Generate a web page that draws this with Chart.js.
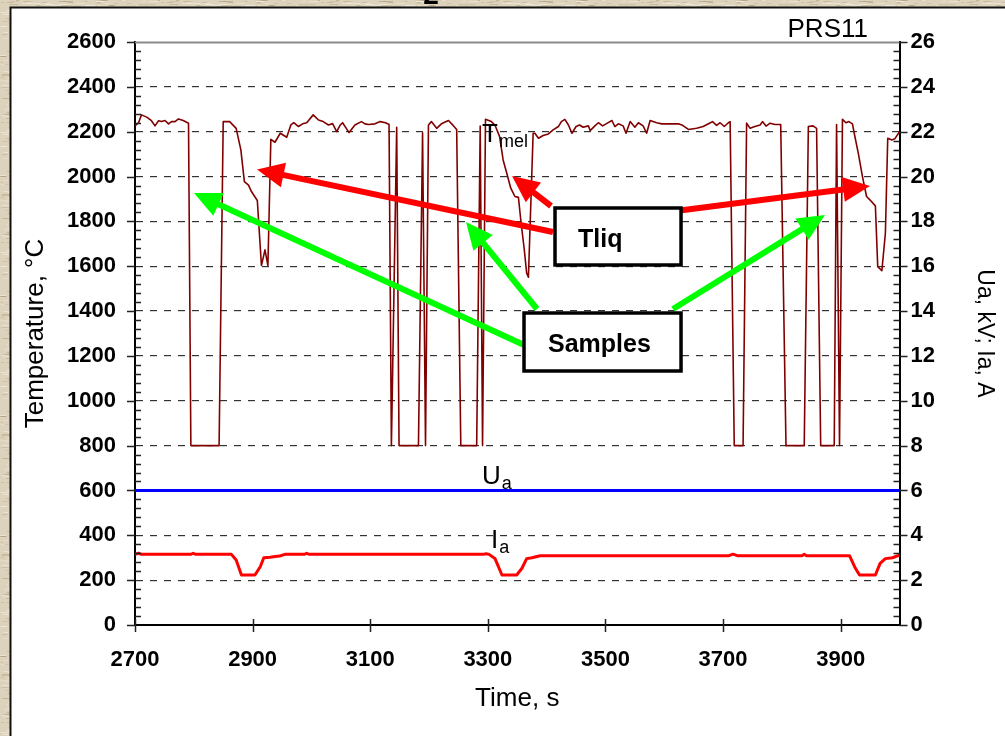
<!DOCTYPE html>
<html><head><meta charset="utf-8">
<script src="https://cdn.jsdelivr.net/npm/chart.js@4/dist/chart.umd.min.js"></script>
<style>html,body{margin:0;padding:0;overflow:hidden;background:#ddd3bc}canvas{display:block}</style>
</head><body>
<canvas id="c" width="1005" height="736"></canvas>
<script>
// ---- axis ticks ----
const xTicks = [2700, 2900, 3100, 3300, 3500, 3700, 3900];
const yTicksLeft = [0, 200, 400, 600, 800, 1000, 1200, 1400, 1600, 1800, 2000, 2200, 2400, 2600];
const yTicksRight = [0, 2, 4, 6, 8, 10, 12, 14, 16, 18, 20, 22, 24, 26];

// ---- T_mel (temperature, °C) ----
const timeT = [2700,2706,2711,2720,2728,2734,2740,2745,2751,2757,2762,2768,2774,2782,2791,
2795,2843,
2850,2861,2872,2880,2886,2893,2898,2908,2915,2921,2926,
2931,2938,2947,2958,2965,2970,2978,2985,2992,3003,3012,3020,3029,3036,3043,3049,3053,3064,3074,3085,3091,3097,3108,3117,3126,3132,
3136,3145,3149,3182,3189,3194,
3199,3204,3213,3221,3233,3241,3247,
3254,3281,3287,3291,3296,
3306,3312,3320,3326,3333,3339,3346,3352,3356,3362,3366,3369,
3377,3380,3386,3394,3403,3411,3420,3425,3431,3437,3443,3450,3456,3462,3471,3474,3482,3488,3495,3501,3511,3516,3522,3530,3535,3542,3550,3556,3564,3570,3576,3587,3596,3604,3624,3630,3641,3655,3666,3677,3682,3689,3695,3702,3709,3712,
3719,3734,
3740,3746,3754,3763,3767,3773,3780,3788,3798,
3807,3838,
3845,3853,3859,
3866,3889,3893,3898,
3903,3909,3914,3920,3923,3930,3937,3944,3950,3959,3963,3970,3976,3980,3987,3992,4000];
const tempT = [2226,2240,2275,2265,2249,2226,2249,2245,2250,2235,2245,2245,2257,2250,2238,
800,800,
2245,2245,2215,2119,1977,1962,1933,1893,1603,1673,1603,
2166,2153,2193,2175,2230,2240,2223,2235,2240,2275,2252,2245,2230,2236,2200,2230,2240,2196,2230,2245,2235,2232,2235,2245,2240,2232,
800,2220,800,800,2195,800,
2230,2245,2215,2235,2250,2228,2210,
800,800,2225,800,2255,
2245,2230,2178,2074,2007,1948,1911,1907,1806,1673,1569,1551,
2193,2193,2171,2183,2190,2208,2223,2245,2255,2230,2193,2223,2230,2220,2226,2205,2226,2240,2226,2235,2250,2223,2235,2226,2193,2245,2220,2240,2226,2193,2250,2240,2235,2235,2235,2230,2210,2215,2223,2238,2245,2228,2240,2223,2240,2245,
800,800,
2238,2215,2223,2230,2245,2225,2238,2232,2232,
800,800,
2223,2226,2215,
800,800,2232,800,
2255,2240,2245,2235,2193,2103,2000,1911,1895,1869,1598,1580,1747,2171,2163,2168,2200];

// ---- I_a (A), right axis ----
const timeI = [2700,2706,2711,2795,2799,2803,2864,2872,2881,2904,2913,2919,2930,2938,2946,2955,2988,2992,2996,3292,3297,3302,3312,3324,3349,3358,3366,3375,3389,3710,3717,3724,3834,3838,3842,3915,3925,3932,3959,3967,3976,3988,4000];
const currI = [3.15,3.2,3.15,3.15,3.2,3.15,3.15,2.9,2.23,2.23,2.6,3.0,3.02,3.05,3.08,3.15,3.15,3.2,3.15,3.15,3.18,3.15,2.97,2.23,2.23,2.53,2.96,3.0,3.09,3.09,3.16,3.09,3.09,3.15,3.09,3.09,2.53,2.23,2.23,2.75,2.96,3.0,3.12];

// ---- U_a (kV), right axis ----
const timeU = [2700, 4000];
const voltU = [6.0, 6.0];

// ---- annotations (data coordinates: time, temperature) ----
const arrowsTliq = [[3410.8,1752.7,2907.5,2031.4],[3407.4,1868.6,3341.1,2002.4],[3620,1846.3,3949.8,1957.8]];
const arrowsSamples = [[3361.5,1248.7,2800.3,1926.6],[3383.6,1409.3,3262.9,1797.3],[3614.8,1409.3,3873.3,1828.5]];
const boxTliq = [3414.2,1859.7,3628.5,1605.5];
const boxSamples = [3361.5,1391.4,3628.5,1132.8];
const textTliq = ['Tliq', 3453.3, 1687];
const textSamples = ['Samples', 3402.3, 1217.5];
const labelTmel = ['T', 'mel', 3290.1, 2154];
const labelUa = ['U', 'a', 3290.1, 628.8];
const labelIa = ['I', 'a', 3305.4, 343.4];
const labelPRS = ['PRS11', 3946.4, 2622.3];
const labelTop = ['2', 3203.3, 2769];

const FONT = "'Liberation Sans', Arial, Helvetica, sans-serif";
Chart.defaults.font.family = FONT;
Chart.defaults.color = '#000';

function pts(xs, ys){ return xs.map((x,i)=>({x:x, y:ys[i]})); }

// background texture pattern (decoration only)
function makeTexture(ctx){
  const c = document.createElement('canvas'); c.width = 160; c.height = 120;
  const g = c.getContext('2d');
  g.fillStyle = '#ddd3bc'; g.fillRect(0,0,160,120);
  let s = 12345;
  const rnd = ()=>{ s = (s*1103515245 + 12345) % 2147483648; return s/2147483648; };
  for(let i=0;i<900;i++){
    const x = rnd()*160, y = Math.floor(rnd()*120), w = 2+rnd()*9;
    const v = rnd();
    g.fillStyle = v<0.5 ? 'rgba(150,130,90,'+(0.15+0.25*rnd())+')' : 'rgba(250,246,236,'+(0.25+0.35*rnd())+')';
    g.fillRect(x,y,w,1);
  }
  return ctx.createPattern(c,'repeat');
}

const bgPlugin = {
  id:'bg',
  beforeDraw(chart){
    const ctx = chart.ctx;
    ctx.save();
    ctx.fillStyle = makeTexture(ctx);
    ctx.fillRect(0,0,chart.width,chart.height);
    ctx.fillStyle = '#fff';
    ctx.fillRect(10,7,chart.width-10,chart.height-7);
    ctx.strokeStyle = '#111'; ctx.lineWidth = 2;
    ctx.beginPath(); ctx.moveTo(10.5,chart.height); ctx.lineTo(10.5,7.5); ctx.lineTo(chart.width,7.5); ctx.stroke();
    ctx.restore();
  },
  beforeDatasetsDraw(chart){
    const ctx = chart.ctx, a = chart.chartArea, y = chart.scales.y;
    const py = Math.round(y.getPixelForValue(2600))+0.5;
    ctx.save(); ctx.strokeStyle = '#8a8a8a'; ctx.lineWidth = 2;
    ctx.beginPath(); ctx.moveTo(a.left, py); ctx.lineTo(a.right, py); ctx.stroke(); ctx.restore();
  }
};

function drawArrow(ctx, x1,y1,x2,y2,color){
  const ang = Math.atan2(y2-y1, x2-x1), L = 27, W = 12.5;
  const bx = x2 - L*Math.cos(ang), by = y2 - L*Math.sin(ang);
  ctx.strokeStyle = color; ctx.lineWidth = 6; ctx.lineCap = 'butt';
  ctx.beginPath(); ctx.moveTo(x1,y1); ctx.lineTo(bx+2*Math.cos(ang),by+2*Math.sin(ang)); ctx.stroke();
  ctx.fillStyle = color; ctx.beginPath();
  ctx.moveTo(x2,y2);
  ctx.lineTo(bx + W*Math.sin(ang), by - W*Math.cos(ang));
  ctx.lineTo(bx - W*Math.sin(ang), by + W*Math.cos(ang));
  ctx.closePath(); ctx.fill();
}

const annoPlugin = {
  id:'anno',
  afterDatasetsDraw(chart){
    const ctx = chart.ctx, X = chart.scales.x, Y = chart.scales.y;
    const px = v=>X.getPixelForValue(v), py = v=>Y.getPixelForValue(v);
    ctx.save();
    arrowsTliq.forEach(a=>drawArrow(ctx, px(a[0]),py(a[1]),px(a[2]),py(a[3]),'#ff0000'));
    arrowsSamples.forEach(a=>drawArrow(ctx, px(a[0]),py(a[1]),px(a[2]),py(a[3]),'#00ff00'));
    [boxTliq, boxSamples].forEach(b=>{
      const x1=px(b[0]), y1=py(b[1]), x2=px(b[2]), y2=py(b[3]);
      ctx.fillStyle='#fff'; ctx.fillRect(x1,y1,x2-x1,y2-y1);
      ctx.strokeStyle='#000'; ctx.lineWidth=3.5; ctx.strokeRect(x1,y1,x2-x1,y2-y1);
    });
    ctx.fillStyle='#000'; ctx.textAlign='left'; ctx.textBaseline='alphabetic';
    ctx.font = 'bold 25px '+FONT;
    [textTliq, textSamples].forEach(t=>ctx.fillText(t[0], px(t[1]), py(t[2])));
    [labelTmel, labelUa, labelIa].forEach(l=>{
      const x = px(l[2]), y = py(l[3]);
      ctx.font = '26px '+FONT; ctx.fillText(l[0], x, y);
      const w = ctx.measureText(l[0]).width;
      ctx.font = '18px '+FONT; ctx.fillText(l[1], x+w+1, y+5);
    });
    ctx.font = '26px '+FONT; ctx.textAlign='right';
    ctx.fillText(labelPRS[0], px(labelPRS[1]), py(labelPRS[2]));
    ctx.font = 'bold 28px '+FONT; ctx.textAlign='center';
    ctx.fillText(labelTop[0], px(labelTop[1]), py(labelTop[2]));
    ctx.restore();
  },
  afterDraw(chart){
    const ctx = chart.ctx, X = chart.scales.x, Y = chart.scales.y, Y2 = chart.scales.y2, a = chart.chartArea;
    ctx.save(); ctx.strokeStyle='#222'; ctx.lineWidth=1.5;
    ctx.beginPath();
    for(let v=0; v<=2600; v+=40){
      const p = Math.round(Y.getPixelForValue(v))+0.5;
      if(v%200===0){ ctx.moveTo(a.left-8,p); ctx.lineTo(a.left,p); }
      else { ctx.moveTo(a.left,p); ctx.lineTo(a.left+6,p); }
    }
    for(let v=0; v<=26.001; v+=0.4){
      const p = Math.round(Y2.getPixelForValue(v))+0.5;
      const major = Math.abs(v/2 - Math.round(v/2))<1e-6;
      if(major){ ctx.moveTo(a.right,p); ctx.lineTo(a.right+8,p); }
      else { ctx.moveTo(a.right-6,p); ctx.lineTo(a.right,p); }
    }
    xTicks.forEach(v=>{
      const p = Math.round(X.getPixelForValue(v))+0.5;
      ctx.moveTo(p,a.bottom-6); ctx.lineTo(p,a.bottom+7);
    });
    ctx.stroke(); ctx.restore();
  }
};

const tickFont = {family:FONT, size:22, weight:'bold'};
const titleFont = {family:FONT, size:26, weight:'normal'};
const plain = v => String(v);

new Chart(document.getElementById('c'), {
  type:'line',
  data:{ datasets:[
    {label:'T_mel', data:pts(timeT,tempT), yAxisID:'y', borderColor:'#800000', borderWidth:1.6, pointRadius:0, tension:0, borderJoinStyle:'round', fill:false},
    {label:'U_a', data:pts(timeU,voltU), yAxisID:'y2', borderColor:'#0000ff', borderWidth:3, pointRadius:0, tension:0, fill:false},
    {label:'I_a', data:pts(timeI,currI), yAxisID:'y2', borderColor:'#ff0000', borderWidth:3, pointRadius:0, tension:0, borderJoinStyle:'round', fill:false}
  ]},
  options:{
    responsive:false, animation:false, devicePixelRatio:1,
    layout:{padding:{top:42,left:0,right:0,bottom:0}},
    plugins:{legend:{display:false}, tooltip:{enabled:false}, title:{display:false}},
    scales:{
      x:{type:'linear', min:2700, max:4000,
        afterBuildTicks:s=>{ s.ticks = xTicks.map(v=>({value:v})); },
        afterFit:s=>{ s.height = 111; },
        grid:{display:false, drawTicks:false},
        border:{display:true, color:'#000', width:2},
        ticks:{font:tickFont, color:'#000', padding:22, maxRotation:0, autoSkip:false, callback:plain},
        title:{display:true, text:'Time, s', font:titleFont, color:'#000', padding:{top:0,bottom:22}}
      },
      y:{position:'left', min:0, max:2600,
        afterBuildTicks:s=>{ s.ticks = yTicksLeft.map(v=>({value:v})); },
        afterFit:s=>{ s.width = 135; },
        grid:{drawTicks:false, lineWidth:1.2, color:c=>(c.tick && (c.tick.value===0 || c.tick.value===2600)) ? 'rgba(0,0,0,0)' : '#333'},
        border:{display:true, color:'#000', width:2, dash:[7,7]},
        ticks:{font:tickFont, color:'#000', padding:19, autoSkip:false, callback:plain},
        title:{display:true, text:'Temperature, °C', font:titleFont, color:'#000', padding:{top:20,bottom:0}}
      },
      y2:{position:'right', min:0, max:26,
        afterBuildTicks:s=>{ s.ticks = yTicksRight.map(v=>({value:v})); },
        afterFit:s=>{ s.width = 105.5; },
        grid:{drawOnChartArea:false, drawTicks:false},
        border:{display:true, color:'#000', width:2},
        ticks:{font:tickFont, color:'#000', padding:11, autoSkip:false, callback:plain},
        title:{display:true, text:'Ua, kV; Ia, A', font:{family:FONT, size:23}, color:'#000', padding:{top:7,bottom:0}}
      }
    }
  },
  plugins:[bgPlugin, annoPlugin]
});
</script>
</body></html>
